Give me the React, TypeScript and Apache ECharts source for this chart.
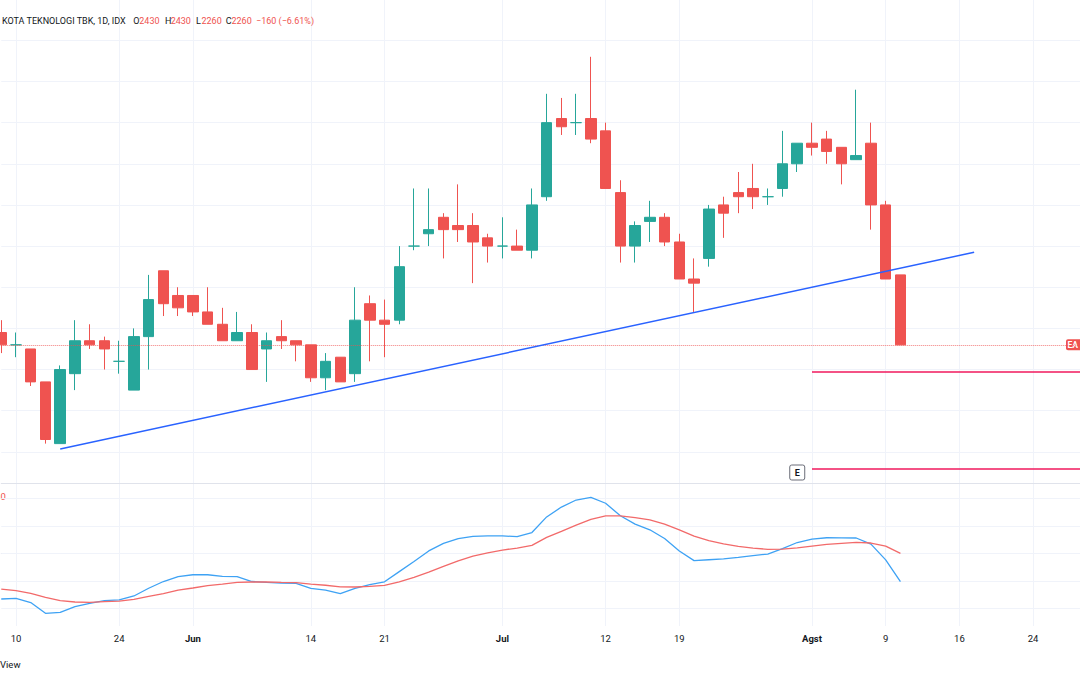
import React, { useEffect, useRef } from "react";
import * as echarts from "echarts";

// ---------- data ----------
const dates = [
  "2021-05-07", "2021-05-10", "2021-05-11", "2021-05-17", "2021-05-18", "2021-05-19", "2021-05-20", "2021-05-21",
  "2021-05-24", "2021-05-25", "2021-05-27", "2021-05-28", "2021-05-31", "2021-06-02", "2021-06-03", "2021-06-04",
  "2021-06-07", "2021-06-08", "2021-06-09", "2021-06-10", "2021-06-11", "2021-06-14", "2021-06-15", "2021-06-16",
  "2021-06-17", "2021-06-18", "2021-06-21", "2021-06-22", "2021-06-23", "2021-06-24", "2021-06-25", "2021-06-28",
  "2021-06-29", "2021-06-30", "2021-07-01", "2021-07-02", "2021-07-05", "2021-07-06", "2021-07-07", "2021-07-08",
  "2021-07-09", "2021-07-12", "2021-07-13", "2021-07-14", "2021-07-15", "2021-07-16", "2021-07-19", "2021-07-21",
  "2021-07-22", "2021-07-23", "2021-07-26", "2021-07-27", "2021-07-28", "2021-07-29", "2021-07-30", "2021-08-02",
  "2021-08-03", "2021-08-04", "2021-08-05", "2021-08-06", "2021-08-09", "2021-08-10",
  "2021-08-11", "2021-08-12", "2021-08-13", "2021-08-16", "2021-08-18", "2021-08-19", "2021-08-20", "2021-08-23",
  "2021-08-24", "2021-08-25", "2021-08-26", "2021-08-27", "2021-08-30",
];

const opens = [
  2290, 2260, 2250, 2170, 2020, 2190, 2270, 2270, 2220, 2150, 2280, 2440, 2380, 2380, 2340, 2310,
  2270, 2290, 2250, 2280, 2270, 2260, 2180, 2230, 2190, 2360, 2320, 2320, 2500, 2530, 2570, 2550,
  2550, 2520, 2500, 2500, 2490, 2620, 2810, 2800, 2810, 2780, 2630, 2500, 2560, 2570, 2510, 2420,
  2470, 2600, 2630, 2640, 2620, 2640, 2700, 2750, 2760, 2740, 2710, 2750, 2600, 2430,
];
const highs = [
  2320, 2290, 2250, 2170, 2210, 2320, 2310, 2280, 2270, 2300, 2430, 2440, 2400, 2380, 2400, 2350,
  2340, 2310, 2290, 2320, 2270, 2260, 2240, 2230, 2400, 2380, 2370, 2500, 2640, 2640, 2580, 2650,
  2580, 2530, 2570, 2540, 2640, 2870, 2860, 2870, 2960, 2800, 2660, 2560, 2610, 2580, 2530, 2470,
  2600, 2620, 2680, 2700, 2640, 2780, 2750, 2800, 2780, 2740, 2880, 2800, 2610, 2430,
];
const lows = [
  2240, 2230, 2160, 2020, 2020, 2150, 2250, 2200, 2190, 2150, 2200, 2330, 2330, 2330, 2310, 2270,
  2270, 2200, 2170, 2250, 2220, 2170, 2150, 2170, 2170, 2220, 2230, 2310, 2490, 2500, 2470, 2510,
  2410, 2460, 2470, 2490, 2470, 2610, 2770, 2770, 2750, 2640, 2460, 2460, 2510, 2500, 2420, 2340,
  2450, 2520, 2580, 2590, 2600, 2620, 2680, 2720, 2700, 2650, 2710, 2540, 2420, 2260,
];
const closes = [
  2260, 2260, 2170, 2030, 2200, 2270, 2260, 2250, 2220, 2280, 2370, 2360, 2350, 2340, 2310, 2270,
  2290, 2200, 2270, 2270, 2260, 2180, 2220, 2170, 2320, 2320, 2310, 2450, 2500, 2540, 2540, 2540,
  2510, 2500, 2500, 2490, 2600, 2800, 2790, 2800, 2760, 2640, 2500, 2550, 2570, 2510, 2420, 2410,
  2590, 2580, 2620, 2620, 2620, 2700, 2750, 2740, 2730, 2700, 2720, 2600, 2420, 2260,
];

// lower pane oscillator (fast = blue, signal = red)
const oscFast = [
  -82.9, -81.7, -89.4, -108.9, -107.1, -96.8, -90.8, -85.9, -84.6, -77.4,
  -63.4, -51.1, -42.3, -38.8, -38.8, -41.6, -42.3, -51.1, -52.7, -53.9,
  -54.4, -63.4, -66.6, -73.2, -63.6, -56.9, -51.6, -33.2, -14.9, 4.4,
  18.1, 26.7, 30.9, 31.6, 31.6, 30.4, 37.8, 66.2, 84.1, 96.9,
  101.8, 91.0, 68.3, 53.2, 42.8, 27.0, 4.2, -13.2, -11.6, -10.0,
  -7.2, -4.2, -1.2, 8.6, 19.7, 26.0, 28.4, 28.3, 27.9, 16.7,
  -11.8, -51.5,
];
const oscSignal = [
  -64.8, -67.8, -72.7, -79.9, -85.9, -88.3, -89.0, -87.8, -86.6, -83.6,
  -78.1, -73.0, -66.7, -62.9, -58.5, -55.8, -52.7, -52.0, -52.0, -52.7,
  -53.2, -55.7, -57.9, -60.9, -61.1, -59.9, -58.1, -51.8, -43.7, -34.1,
  -23.5, -13.5, -5.1, 1.1, 6.0, 9.7, 14.6, 29.0, 40.0, 51.3,
  61.8, 68.0, 68.0, 65.0, 60.8, 53.0, 42.7, 31.3, 23.2, 17.4,
  12.8, 9.5, 7.4, 7.6, 9.8, 13.3, 16.3, 18.3, 20.0, 18.8,
  13.3, 0.0,
];

const priceTicks = [2000, 2100, 2200, 2300, 2400, 2500, 2600, 2700, 2800, 2900, 3000];
const oscTicks = [-100, -50, 0, 50, 100];

const tickDates = [
  "2021-05-10", "2021-05-24", "2021-06-02", "2021-06-14", "2021-06-21", "2021-07-01",
  "2021-07-12", "2021-07-19", "2021-08-02", "2021-08-09", "2021-08-16", "2021-08-24",
];
const tickLabels = ["10", "24", "Jun", "14", "21", "Jul", "12", "19", "Agst", "9", "16", "24"];
const boldLabels = ["Jun", "Jul", "Agst"];

const trendStart = ["2021-05-18", 2007];
const trendEnd = ["2021-08-18", 2485];
const levelStartDate = "2021-08-02";
const levels = [2194, 1960];
const earningsDate = "2021-07-30";
const symbolName = "KOTA TEKNOLOGI TBK, 1D, IDX";

// ---------- styles ----------
const FONT = 'Roboto, "Noto Sans", "DejaVu Sans", sans-serif';
const UP = "#26a69a";
const DOWN = "#ef5350";
const GRID = "#f0f3fa";
const TEXT = "#131722";

export default function App() {
  const ref = useRef<HTMLDivElement | null>(null);

  useEffect(() => {
    const el = ref.current;
    if (!el) return;
    const chart = echarts.init(el, null, { renderer: "svg" });
    const last = closes.length - 1;
    const candleData = opens.map((o, i) => [o, closes[i], lows[i], highs[i]]);
    const showTick = (_i: number, v: string) => tickDates.indexOf(v) >= 0;
    const gridLeft = 1.26;
    const gridWidth = 1090.8;
    const lastCat = dates[dates.length - 1];

    chart.setOption({
      animation: false,
      backgroundColor: "#ffffff",
      grid: [
        { left: gridLeft, top: 0, width: gridWidth, height: 483, containLabel: false, outerBoundsMode: "none" },
        { left: gridLeft, top: 483, width: gridWidth, height: 143, containLabel: false, outerBoundsMode: "none" },
      ],
      xAxis: [
        {
          type: "category", gridIndex: 0, data: dates, boundaryGap: false,
          axisLine: { show: true, lineStyle: { color: "#e0e3eb", width: 1 } },
          axisTick: { show: false }, axisLabel: { show: false },
          splitLine: { show: true, interval: showTick, lineStyle: { color: GRID, width: 1 } },
        },
        {
          type: "category", gridIndex: 1, data: dates, boundaryGap: false,
          axisLine: { show: true, lineStyle: { color: "#e0e3eb", width: 1 } },
          axisTick: { show: false },
          axisLabel: {
            show: true, interval: showTick, margin: 7,
            formatter: (v: string) => {
              const lab = tickLabels[tickDates.indexOf(v)] || "";
              return boldLabels.indexOf(lab) >= 0 ? `{b|${lab}}` : `{n|${lab}}`;
            },
            rich: {
              b: { fontSize: 9.5, fontWeight: "bold", color: TEXT, fontFamily: FONT },
              n: { fontSize: 9.5, color: TEXT, fontFamily: FONT },
            },
          },
          splitLine: { show: true, interval: showTick, lineStyle: { color: GRID, width: 1 } },
        },
      ],
      yAxis: [
        { type: "value", gridIndex: 0, min: 1924.3, max: 3098.0, show: false },
        { type: "value", gridIndex: 1, min: -131.9, max: 127.8, show: false },
      ],
      series: [
        {
          type: "lines", coordinateSystem: "cartesian2d", xAxisIndex: 0, yAxisIndex: 0, z: 1, silent: true,
          lineStyle: { color: GRID, width: 1, opacity: 1 },
          data: priceTicks.map((p) => ({ coords: [[0, p], [dates.length - 1, p]] })),
        },
        {
          type: "lines", coordinateSystem: "cartesian2d", xAxisIndex: 1, yAxisIndex: 1, z: 1, silent: true,
          lineStyle: { color: GRID, width: 1, opacity: 1 },
          data: oscTicks.map((p) => ({ coords: [[0, p], [dates.length - 1, p]] })),
        },
        {
          type: "candlestick", xAxisIndex: 0, yAxisIndex: 0, z: 3, clip: false,
          barWidth: 11,
          data: candleData,
          itemStyle: {
            color: UP, color0: DOWN, borderColor: UP, borderColor0: DOWN, borderColorDoji: UP, borderWidth: 1,
          },
          markLine: {
            silent: true, symbol: ["none", "none"], label: { show: false }, animation: false,
            data: [
              { yAxis: closes[last], lineStyle: { color: DOWN, type: "dotted", width: 1, opacity: 0.75 } },
              [
                { coord: trendStart, lineStyle: { color: "#2962ff", width: 1.5, type: "solid", opacity: 1 } },
                { coord: trendEnd, lineStyle: { color: "#2962ff", width: 1.5, type: "solid", opacity: 1 } },
              ],
              ...levels.map((l) => [
                { coord: [levelStartDate, l], lineStyle: { color: "#f0185c", width: 1.5, type: "solid", opacity: 1 } },
                { coord: [lastCat, l], lineStyle: { color: "#f0185c", width: 1.5, type: "solid", opacity: 1 } },
              ]),
            ],
          },
        },
        {
          type: "line", xAxisIndex: 1, yAxisIndex: 1, z: 3, data: oscFast, showSymbol: false, clip: false,
          lineStyle: { color: "#3ea2f4", width: 1.3 },
        },
        {
          type: "line", xAxisIndex: 1, yAxisIndex: 1, z: 3, data: oscSignal, showSymbol: false, clip: false,
          lineStyle: { color: "#f26a6a", width: 1.3 },
        },
      ],
    });

    const ex = chart.convertToPixel({ xAxisIndex: 0 } as any, earningsDate) as unknown as number;
    const py = chart.convertToPixel({ yAxisIndex: 0 } as any, closes[last]) as unknown as number;
    const change = closes[last] - closes[last - 1];
    const pct = (change / closes[last - 1]) * 100;
    const fmtSigned = (v: number, d: number) => (v < 0 ? "\u2212" : "+") + Math.abs(v).toFixed(d);

    const txt = (x: number, y: number, text: string, fill: string, extra: any = {}) => ({
      type: "text", x, y, silent: true,
      style: { text, fill, fontSize: 9, fontFamily: FONT, verticalAlign: "middle", ...extra },
    });

    chart.setOption({
      graphic: [
        txt(2, 20.7, symbolName, TEXT),
        txt(133.3, 20.7, "O", TEXT),
        txt(139.3, 20.7, String(opens[last]), DOWN),
        txt(165, 20.7, "H", TEXT),
        txt(170.7, 20.7, String(highs[last]), DOWN),
        txt(196, 20.7, "L", TEXT),
        txt(201.5, 20.7, String(lows[last]), DOWN),
        txt(225.7, 20.7, "C", TEXT),
        txt(231.5, 20.7, String(closes[last]), DOWN),
        txt(256, 20.7, `${fmtSigned(change, 0)} (${fmtSigned(pct, 2)}%)`, DOWN),
        txt(0.5, 496, "0", DOWN, { fontSize: 9.5 }),
        txt(0, 664, "View", TEXT, { fontSize: 9.5 }),
        {
          type: "rect", silent: true, shape: { x: ex - 7.5, y: 465, width: 15, height: 15, r: 2 },
          style: { fill: "#ffffff", stroke: "#6a6d78", lineWidth: 1 },
        },
        txt(ex, 472.8, "E", TEXT, { align: "center", fontWeight: "bold", fontSize: 9 }),
        {
          type: "rect", silent: true, shape: { x: 1066, y: py - 5.5, width: 26, height: 11, r: 2 },
          style: { fill: DOWN },
        },
        txt(1067.5, py + 0.3, "EA", "#ffffff", { fontWeight: "bold", fontSize: 8.5 }),
      ],
    });

    return () => chart.dispose();
  }, []);

  return (
    <div
      ref={ref}
      style={{ position: "fixed", left: 0, top: 0, width: 1080, height: 675, background: "#ffffff" }}
    />
  );
}
